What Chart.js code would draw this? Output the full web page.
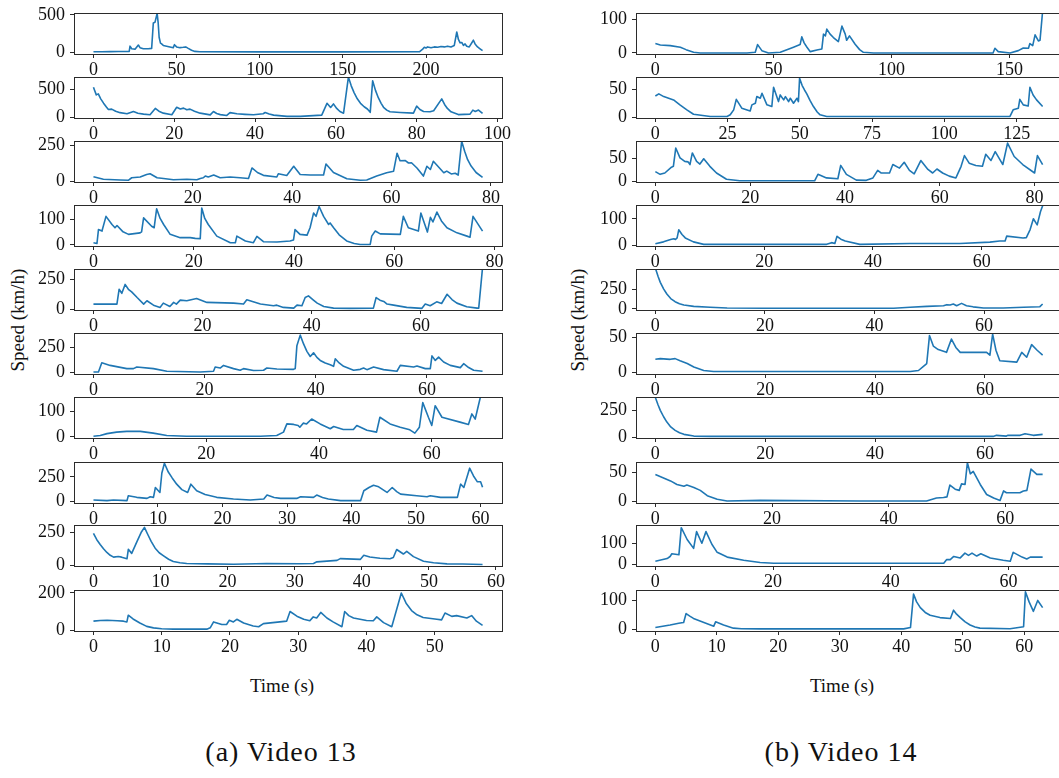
<!DOCTYPE html>
<html>
<head>
<meta charset="utf-8">
<script src="https://cdn.jsdelivr.net/npm/chart.js@4.4.1/dist/chart.umd.min.js"></script>
<style>
  html, body { margin: 0; padding: 0; background: #fff; }
  body { width: 1059px; height: 778px; overflow: hidden; position: relative; font-family: 'Liberation Serif', 'Times New Roman', serif; color: #111; }
  canvas { position: absolute; }
  .txt { position: absolute; white-space: nowrap; transform: translate(-50%, -50%); }
  .axis { font-size: 19px; }
  .rot { transform: translate(-50%, -50%) rotate(-90deg); }
  .cap { font-size: 28px; letter-spacing: 1px; }
</style>
</head>
<body>
<div class="txt axis rot" style="left:18px;top:320px">Speed (km/h)</div>
<div class="txt axis rot" style="left:578px;top:320px">Speed (km/h)</div>
<div class="txt axis" style="left:282px;top:686px">Time (s)</div>
<div class="txt axis" style="left:842px;top:686px">Time (s)</div>
<div class="txt cap" style="left:281px;top:752px">(a) Video 13</div>
<div class="txt cap" style="left:841px;top:752px">(b) Video 14</div>
<script>
// ---- Video 13: speed traces, [time (s), speed (km/h)] ----
const speed13_1 = [[0,5],[5,6],[10,7],[15,8],[20,8],[21.5,10],[22,80],[23,45],[25,40],[27,95],[28,60],[30,45],[33,45],[35,50],[36,390],[37,400],[38.3,520],[38.9,400],[39.5,200],[40.3,120],[41,110],[42,90],[44,80],[46,70],[48,60],[48.7,100],[50,70],[52,60],[54,65],[55.5,70],[57,50],[59,25],[61,10],[64,5],[100,3],[150,3],[196,5],[198,40],[199,65],[200,55],[201,70],[203,60],[205,70],[207,65],[209,75],[211,70],[213,80],[215,70],[217,90],[218.5,270],[219.5,170],[220.5,125],[221.5,130],[222.5,90],[223.5,110],[224.5,80],[226,70],[228.5,160],[229.5,110],[231,70],[232.5,45],[234,20]];
const speed13_2 = [[0,535],[0.7,400],[1.2,418],[1.8,330],[2.5,253],[3.2,185],[3.7,140],[4.5,147],[5.5,110],[6.6,85],[8.3,65],[9.9,106],[11,75],[12.4,59],[14,47],[15.3,160],[16.2,110],[17.3,76],[19.4,47],[20.6,180],[21.5,150],[22.3,165],[23.1,135],[23.9,147],[25,110],[26.4,76],[28.9,45],[29.7,106],[30.5,70],[31.4,50],[33,35],[33.8,85],[35.5,65],[37.5,55],[39.6,47],[42,65],[42.5,88],[43.5,60],[44.6,41],[47.9,18],[51.2,18],[56.5,41],[57.8,250],[58.7,176],[59.4,240],[60.2,160],[61,106],[61.9,76],[63.1,715],[63.8,560],[64.5,440],[65.3,330],[66.1,250],[67,190],[67.8,150],[68.5,90],[69.1,650],[69.8,480],[70.5,350],[71.2,250],[71.8,180],[72.6,130],[73.4,100],[75.9,88],[79.2,76],[80,200],[80.8,140],[81.7,106],[83.3,100],[84.2,118],[86.2,330],[86.9,230],[87.6,160],[88.5,100],[90.3,50],[93.2,59],[93.9,130],[94.5,105],[95.3,130],[96.3,70]];
const speed13_3 = [[0,30],[2,12],[5.4,7],[7,5],[7.7,23],[9.4,28],[10.7,46],[11.4,51],[12.8,23],[14.1,18],[16.1,9],[18.8,12],[20.8,9],[21.5,18],[22.1,23],[22.5,35],[23.1,28],[24.2,42],[25.5,23],[27.5,28],[29.5,23],[31.2,18],[31.9,92],[33,60],[34.2,40],[36.9,28],[37.2,51],[38.9,39],[40.3,104],[41.6,46],[43.6,42],[46.3,42],[46.8,120],[48.3,60],[51,16],[53.7,5],[55,7],[57,35],[59,58],[60.4,69],[61.1,196],[61.7,143],[62.7,145],[63.4,127],[64,129],[65.1,92],[66.4,35],[67.1,104],[67.8,81],[68.4,139],[70.5,58],[71.1,70],[72,50],[72.8,55],[73.4,42],[74.1,280],[74.7,210],[75.3,150],[76,105],[77,60],[78.3,25]];
const speed13_4 = [[0,9],[0.7,6],[1,61],[1.7,55],[2.5,113],[3.7,81],[4.3,68],[4.7,77],[5.9,52],[7,42],[9.3,48],[9.6,52],[10,107],[11.6,74],[12.1,68],[12.6,143],[13.3,105],[14,81],[15.3,42],[17.3,29],[19.3,29],[20.3,26],[21.3,25],[21.6,146],[22.2,105],[22.9,81],[24.6,35],[27.3,9],[28.3,9],[28.6,35],[30.3,16],[31.9,9],[32.6,34],[33.9,13],[36.6,12],[39.2,16],[39.9,20],[40.2,61],[41.2,42],[42.6,39],[43.2,68],[43.9,126],[44.4,113],[45,152],[45.9,113],[46.9,81],[47.2,87],[47.9,68],[49,40],[50.5,16],[52,6],[53.2,2],[55.2,2],[55.5,35],[56.2,55],[57.2,44],[61.2,42],[61.8,113],[62.8,68],[64.8,55],[65.3,126],[66.6,51],[67.2,109],[67.7,91],[68.5,130],[69.4,95],[70.5,68],[72.5,48],[74.5,35],[75.1,31],[75.7,113],[77.6,55]];
const speed13_5 = [[0,42],[4.3,42],[4.7,167],[5.2,133],[5.8,208],[6.4,167],[7,145],[8,97],[9.2,42],[9.8,70],[11,33],[12.2,14],[12.8,50],[14,22],[14.7,56],[15.2,42],[15.9,75],[17.1,70],[18.9,89],[20.8,56],[25.7,50],[27.5,42],[28.1,78],[30.6,42],[33,28],[33.6,33],[34.8,14],[36.7,8],[37.3,33],[38.2,28],[38.8,97],[39.4,111],[40.2,80],[41,50],[42.2,22],[44,8],[47,6],[51.3,8],[51.8,97],[52.5,75],[53.2,64],[53.8,42],[55,33],[57.4,14],[60.2,6],[60.8,42],[61.7,28],[62.9,61],[63.8,47],[64.8,125],[65.7,80],[66.6,50],[68.4,20],[70.3,8],[70.6,8],[71.3,350]];
const speed13_6 = [[0,6],[0.9,6],[1.5,97],[3,71],[6,39],[7.2,39],[7.8,55],[10.8,39],[13.2,13],[19.2,6],[21.6,13],[21.9,55],[22.8,45],[23.4,71],[25.2,39],[26.4,23],[27,39],[28.8,20],[30.6,23],[31.2,45],[33,36],[36,32],[36.3,39],[36.6,266],[37.2,370],[37.8,283],[38.4,210],[39,159],[39.6,195],[40.2,150],[40.8,120],[41.7,95],[42.6,78],[43.2,62],[43.5,136],[44.2,95],[45,62],[46.8,23],[48,32],[48.6,45],[49.2,29],[50.4,55],[52.2,29],[54.6,13],[55.2,71],[57.6,55],[58.2,65],[59.7,39],[60.6,39],[60.9,165],[61.5,120],[62.1,153],[63,105],[64.2,71],[66,49],[66.6,88],[67.5,50],[68.4,23],[70,13]];
const speed13_7 = [[0,3],[1.2,6],[2.4,13],[4.1,19],[5.9,22],[8.3,22],[10.6,15],[13,6],[16.5,3],[29.6,3],[32.5,6],[33.7,19],[34.3,51],[35.5,49],[36.3,45],[36.6,38],[37.2,54],[37.8,51],[38.7,70],[40.2,51],[42,32],[42.6,41],[44.3,29],[46.1,29],[46.7,45],[48.5,26],[50.2,19],[50.8,77],[52.6,51],[54.4,38],[56.1,28],[57,15],[57.8,38],[58.4,134],[59.4,77],[60,45],[60.6,122],[61.8,77],[65,58],[66.5,49],[67.1,90],[67.7,70],[68.6,154],[69,160]];
const speed13_8 = [[0,14],[2.1,7],[3.1,14],[5.2,7],[5.4,57],[6.7,41],[8.3,30],[8.8,47],[9.3,41],[9.6,142],[10.3,91],[10.6,290],[11,390],[11.6,300],[12.2,240],[12.9,176],[13.7,120],[14.6,91],[15.1,176],[16,108],[17.3,70],[19.1,41],[21.7,24],[24.3,14],[26.4,24],[26.9,64],[28,40],[29,30],[31.5,30],[32.1,47],[34.1,41],[34.6,64],[35.5,40],[36.4,24],[38.3,7],[41.4,7],[41.9,108],[42.7,142],[43.4,165],[44.2,149],[45.5,91],[46.3,142],[47,100],[47.6,74],[50.1,57],[51.7,47],[52.2,57],[53.8,41],[56.4,41],[56.9,176],[57.4,142],[58.3,340],[58.9,260],[59.5,200],[60,200],[60.3,145]];
const speed13_9 = [[0,243],[0.5,195],[1,158],[1.5,125],[2,97],[2.5,75],[3,61],[3.7,66],[4.2,61],[5,49],[5.2,121],[5.7,90],[6.5,182],[7.1,250],[7.6,290],[8.1,235],[8.6,182],[9.2,130],[9.8,95],[10.4,73],[11.2,45],[11.9,28],[12.9,18],[13.9,12],[17,9],[20.9,7],[25.8,12],[30.8,10],[32.8,12],[33.3,25],[36.3,36],[36.8,50],[39.8,44],[40.3,75],[41.2,62],[42.7,52],[44.2,49],[44.7,58],[45.2,120],[46.2,85],[46.7,105],[47.7,65],[49.2,30],[50.7,18],[52.7,9],[55,8],[58,5]];
const speed13_10 = [[0,48],[1,52],[2,53],[3.5,50],[4.4,48],[4.9,44],[5.1,80],[5.8,60],[6.8,38],[7.8,20],[8.8,12],[10,7],[11.7,5],[16.6,5],[17.1,12],[17.6,44],[18.8,30],[19.5,30],[19.9,53],[20.5,44],[21,58],[22,38],[23.4,22],[24.2,18],[24.9,35],[27.3,44],[28.3,48],[28.8,100],[29.8,75],[30.8,58],[31.7,50],[32.2,71],[32.7,65],[33.3,95],[34.2,65],[35.1,44],[36.4,18],[36.8,100],[37.4,78],[38.1,65],[40,52],[41,50],[41.5,71],[42.5,40],[43.7,18],[45.1,200],[45.8,145],[46.6,105],[47.4,82],[48.3,68],[50.3,58],[51,55],[51.5,92],[52.5,74],[53.2,78],[54.7,65],[55.4,78],[56.1,48],[57,25]];

// ---- Video 14: speed traces, [time (s), speed (km/h)] ----
const speed14_1 = [[0,28],[2.1,24],[6.3,22],[10.6,17],[13,10],[16.2,2],[19,0],[38.8,0],[42.3,2],[43.3,25],[45.1,7],[47.9,0],[52.9,2],[58.5,17],[61.3,25],[62,48],[63,30],[64.2,17],[65.6,4],[68.4,9],[70.5,12],[71.2,56],[72,51],[72.6,71],[74,56],[75.4,46],[77.5,34],[79,80],[80.4,56],[81,38],[82.2,51],[84.6,26],[86.5,10],[88.1,2],[92.4,0],[143,0],[143.8,14],[145.2,4],[150.2,0],[153.7,7],[155.8,15],[158,14],[158.6,28],[159.8,22],[160.8,54],[162.2,36],[162.9,38],[164,125]];
const speed14_2 = [[0,38],[1.2,42],[2.9,37],[6.3,31],[8.5,22],[10.9,13],[13.2,5],[19,1],[24.8,1],[25.9,4],[27.1,13],[28,32],[29.9,16],[32.8,11],[33.4,22],[34.6,25],[35.1,37],[36.3,34],[36.9,43],[38.6,22],[40.3,19],[40.9,54],[42.6,28],[43.2,40],[44.4,31],[45,37],[46.1,28],[46.7,34],[47.8,25],[49,34],[49.5,28],[49.9,70],[50.8,57],[51.6,49],[52.4,42],[53.5,30],[54.7,19],[56,9],[57,4],[59.3,1],[122.7,1],[123.8,13],[125.6,16],[126.1,32],[127.3,22],[129,20],[129.6,54],[130.7,40],[131.9,31],[134,19]];
const speed14_3 = [[0,21],[1,15],[2,18],[3.4,31],[3.8,33],[4.3,74],[5.2,52],[6.2,44],[6.9,43],[7.3,37],[7.8,63],[8.7,44],[9.4,38],[10.2,50],[11.5,33],[12.9,18],[15,4],[17.8,0.5],[33.6,0.5],[34.3,15],[36.1,7],[38.5,5],[39.1,35],[40.3,15],[42.4,2],[44.5,1.5],[45.9,7],[46.9,24],[47.6,18],[49.4,18],[50.1,37],[51.5,29],[52.5,42],[53.6,24],[54.6,16],[56,46],[57.5,26],[58.5,18],[59.4,27],[60.6,18],[62,11],[63.4,7],[64.5,33],[65.2,57],[66.2,40],[67.6,35],[69,33],[69.7,60],[70.8,46],[71.7,66],[73.3,37],[74.3,85],[75.7,55],[77.5,37],[80,18],[80.6,57],[81.7,37]];
const speed14_4 = [[0,5],[1.5,12],[2.8,21],[3.4,24],[3.7,21],[4,27],[4.3,58],[4.9,40],[5.5,27],[7,12],[8.9,2.5],[31.5,2.5],[32.4,9],[33,6],[33.4,33],[34.1,22],[34.9,15],[37.6,2.5],[46.8,6],[48.7,6],[56,6],[61.5,11],[63.3,15],[64.3,15],[64.6,34],[67.6,27],[68.2,28],[68.9,59],[69.5,100],[70.2,77],[70.8,127],[71.2,150]];
const speed14_5 = [[0,530],[0.5,420],[0.9,345],[1.5,260],[2.1,194],[2.8,135],[3.6,95],[4.4,68],[5.2,52],[7,34],[10,22],[13.1,13],[20,10],[31.3,9],[43.5,9],[46.5,22],[49.6,34],[52.6,43],[53.2,56],[53.8,52],[54.4,65],[55,43],[55.9,73],[56.8,43],[58,28],[59.9,13],[63.5,13],[67.2,22],[70.2,30],[70.7,65]];
const speed14_6 = [[0,19],[0.9,20],[2.7,19],[3.6,20],[4.5,17],[5.8,13],[7,8],[8.8,3],[10.6,1.5],[25,1.5],[46.4,1.5],[47.9,3],[48.8,9],[49.4,13],[49.9,53],[50.6,38],[51.5,33],[53,29],[53.9,48],[54.7,36],[55.5,29],[60.3,29],[60.9,25],[61.4,55],[62,32],[62.7,17],[65.8,15],[66.7,29],[67.6,22],[68.5,40],[69.5,32],[70.5,25]];
const speed14_7 = [[0,370],[0.5,300],[0.9,250],[1.5,190],[2.1,140],[2.8,95],[3.6,62],[4.4,40],[5.2,25],[7,9],[10,6],[61.5,6],[62.1,16],[63.9,9],[64.2,16],[66.4,16],[67.3,31],[68.8,16],[70.5,25]];
const speed14_8 = [[0,46],[1.4,40],[2.6,35],[3.7,29],[4.9,26],[5.4,28],[6.6,24],[7.7,19],[8.9,10],[10.6,4],[12.3,1],[18,2],[35.1,1],[46.5,1],[48.2,6],[49.4,7],[50,8],[50.5,28],[51.4,21],[52.1,19],[52.5,30],[53.1,29],[53.5,66],[54,47],[54.5,51],[55.1,40],[55.7,29],[56.8,12],[58,6],[59.1,2],[59.7,18],[60.2,15],[62.5,15],[63.1,18],[63.7,19],[64.4,55],[65.4,46],[66.4,46]];
const speed14_9 = [[0,15],[2,28],[2.5,38],[2.8,51],[4,46],[4.4,177],[5.4,120],[6.5,77],[7,158],[7.9,102],[8.6,158],[9.6,97],[10.5,58],[12.2,35],[15,20],[17.8,9],[20.1,5],[49,5],[49.5,23],[50.1,23],[50.7,38],[51.8,31],[52.6,54],[53.2,43],[53.8,54],[54.6,40],[55.3,51],[56.9,31],[59.1,20],[60.3,15],[60.8,58],[62.3,35],[63.1,26],[63.7,35],[65.8,35]];
const speed14_10 = [[0,5],[2.4,14],[3.8,20],[4.3,22],[4.6,23],[5,54],[5.6,45],[6.2,37],[7.9,23],[9.5,10],[9.8,25],[10.5,19],[11.1,14],[12.7,3],[14,1],[17.1,0.5],[40.4,0.5],[41.5,5],[42,122],[42.5,95],[43.1,75],[43.9,58],[44.7,48],[46.3,40],[48,37],[48.5,66],[49,52],[49.6,40],[50.4,25],[51.2,14],[52,7],[52.8,3],[57.7,1],[59.9,8],[60.2,130],[60.8,95],[61.5,62],[62.2,100],[63,75]];

// ---- axis ticks and ranges ----
const xTicks13 = [[0,50,100,150,200],[0,20,40,60,80,100],[0,20,40,60,80],[0,20,40,60,80],[0,20,40,60],[0,20,40,60],[0,20,40,60],[0,10,20,30,40,50,60],[0,10,20,30,40,50,60],[0,10,20,30,40,50]];
const yTicks13 = [[0,500],[0,500],[0,250],[0,100],[0,250],[0,250],[0,100],[0,250],[0,250],[0,200]];
const yRange13 = [[-25,525],[-10,717],[-7,282],[-4,158],[-8,338],[-14,391],[-4,156],[-17,403],[-7,308],[-5,216]];
const xTicks14 = [[0,50,100,150],[0,25,50,75,100,125],[0,20,40,60,80],[0,20,40,60],[0,20,40,60],[0,20,40,60],[0,20,40,60],[0,20,40,60],[0,20,40,60],[0,10,20,30,40,50,60]];
const yTicks14 = [[0,100],[0,50],[0,50],[0,100],[0,250],[0,50],[0,250],[0,50],[0,100],[0,100]];
const yRange14 = [[-3,119],[-1.8,72.5],[-2.2,89.8],[-3.8,152.6],[-13,518],[-2,56.7],[-9,375],[-2.4,67],[-8,190],[-7,136.6]];

const video13 = [speed13_1,speed13_2,speed13_3,speed13_4,speed13_5,speed13_6,speed13_7,speed13_8,speed13_9,speed13_10];
const video14 = [speed14_1,speed14_2,speed14_3,speed14_4,speed14_5,speed14_6,speed14_7,speed14_8,speed14_9,speed14_10];

// ---- layout of the subplot grid ----
const ROW_TOPS = [13,77,141,205,269,333,397,462,525,590];
const BOX_H = 41;
const COLS = [{left: 74, width: 428}, {left: 636, width: 426}];
const Y_W = 74, X_H = 28, PAD_T = 12, PAD_R = 16;
const AXIS_COLOR = '#2b2b2b';
const LINE_COLOR = '#1f77b4';
const TICK_FONT = {family: "Liberation Serif", size: 18};

// resolve the serif face for canvas text before any chart draws its ticks
(function warmUpFont() {
  const ctx = document.createElement('canvas').getContext('2d');
  ctx.font = TICK_FONT.size + 'px "' + TICK_FONT.family + '"';
  ctx.measureText('0123456789');
})();

// full rectangular frame around each plot area
const framePlugin = {
  id: 'frame',
  afterDatasetsDraw(chart) {
    const a = chart.chartArea, ctx = chart.ctx;
    ctx.save();
    ctx.strokeStyle = AXIS_COLOR;
    ctx.lineWidth = 1;
    ctx.strokeRect(Math.round(a.left) + 0.5, Math.round(a.top) + 0.5,
                   Math.round(a.right - a.left), Math.round(a.bottom - a.top));
    ctx.restore();
  }
};

function zeroPadding(s) {
  s.paddingLeft = 0; s.paddingRight = 0; s.paddingTop = 0; s.paddingBottom = 0;
}

function drawPanel(series, xt, yt, yr, col, top) {
  const cv = document.createElement('canvas');
  const W = Y_W + col.width + PAD_R;
  const H = PAD_T + BOX_H + X_H;
  cv.width = W; cv.height = H;
  cv.style.left = (col.left - Y_W) + 'px';
  cv.style.top = (top - PAD_T) + 'px';
  cv.style.width = W + 'px'; cv.style.height = H + 'px';
  document.body.appendChild(cv);
  const span = series[series.length - 1][0];
  const gridOpts = {display: true, drawOnChartArea: false, drawTicks: true, tickLength: 4, color: AXIS_COLOR, lineWidth: 1};
  new Chart(cv, {
    type: 'line',
    data: {datasets: [{
      data: series,
      borderColor: LINE_COLOR,
      borderWidth: 1.6,
      pointRadius: 0,
      tension: 0,
      borderJoinStyle: 'round',
      fill: false
    }]},
    options: {
      responsive: false,
      animation: false,
      devicePixelRatio: 1,
      layout: {padding: {left: 0, top: PAD_T, right: PAD_R, bottom: 0}},
      plugins: {legend: {display: false}, tooltip: {enabled: false}},
      scales: {
        x: {
          type: 'linear', bounds: 'data',
          min: -0.05 * span, max: 1.05 * span,
          afterBuildTicks: s => { s.ticks = xt.map(v => ({value: v})); },
          afterFit: s => { s.height = X_H; zeroPadding(s); },
          grid: gridOpts,
          border: {display: false},
          ticks: {autoSkip: false, maxRotation: 0, minRotation: 0, padding: 1, color: '#111', font: TICK_FONT}
        },
        y: {
          type: 'linear', bounds: 'data',
          min: yr[0], max: yr[1],
          afterBuildTicks: s => { s.ticks = yt.map(v => ({value: v})); },
          afterFit: s => { s.width = Y_W; zeroPadding(s); },
          grid: gridOpts,
          border: {display: false},
          ticks: {autoSkip: false, padding: 5, color: '#111', font: TICK_FONT}
        }
      }
    },
    plugins: [framePlugin]
  });
}

function drawAll() {
  video13.forEach((s, i) => drawPanel(s, xTicks13[i], yTicks13[i], yRange13[i], COLS[0], ROW_TOPS[i]));
  video14.forEach((s, i) => drawPanel(s, xTicks14[i], yTicks14[i], yRange14[i], COLS[1], ROW_TOPS[i]));
}
drawAll();
</script>
</body>
</html>
